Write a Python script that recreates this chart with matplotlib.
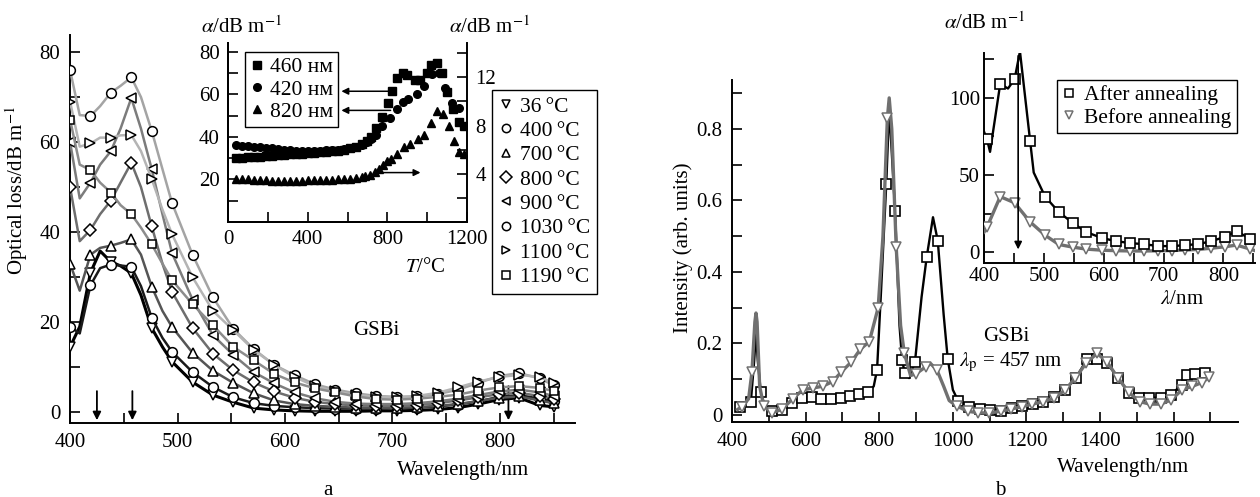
import matplotlib
matplotlib.use('Agg')
import matplotlib.pyplot as plt
from matplotlib.ticker import MultipleLocator
from matplotlib.lines import Line2D

plt.rcParams['font.family'] = ['Liberation Serif', 'DejaVu Serif']
plt.rcParams['mathtext.fontset'] = 'stix'
plt.rcParams['font.size'] = 15
plt.rcParams['axes.linewidth'] = 1.4

# ---------------- panel a: optical loss vs wavelength ----------------
wl_a = [400, 409, 419, 428, 438, 447, 457, 466, 476, 486, 495, 514, 533, 552, 571,
        590, 609, 628, 647, 666, 685, 704, 723, 742, 761, 780, 799, 818, 837, 850]
mark_a = [0, 2, 4, 6, 8] + list(range(10, 30))

loss_36 = [14.5, 19, 31, 35.8, 33.4, 32.5, 30.9, 26, 18.7, 14.5, 11.2, 6.7, 3.8, 2.2, 0.9,
           0.5, 0.3, 0.2, 0.2, 0.2, 0.3, 0.3, 0.4, 0.6, 1.0, 1.8, 2.8, 3.2, 1.5, 1.2]
loss_400 = [19, 17.5, 28.2, 32, 32.8, 32.6, 32.3, 28, 21, 16.5, 13.4, 8.9, 5.6, 3.3, 2.0,
            1.4, 1.1, 0.9, 0.8, 0.8, 0.8, 0.9, 1.0, 1.3, 1.7, 2.4, 3.4, 3.8, 3.0, 2.5]
loss_700 = [33, 27, 35, 36.5, 37, 37.6, 38.4, 35, 27.9, 22.5, 18.9, 13.2, 9.2, 6.5, 4.2,
            2.6, 1.8, 1.4, 1.2, 1.0, 1.0, 1.0, 1.1, 1.4, 1.8, 2.5, 3.2, 3.5, 2.6, 2.0]
loss_800 = [50, 38, 40.5, 44, 47, 51, 55.4, 50, 41.3, 33, 26.7, 18.7, 13, 9.3, 6.6,
            4.6, 3.2, 2.3, 1.8, 1.5, 1.4, 1.4, 1.6, 2.0, 2.6, 3.3, 4.0, 4.3, 3.6, 3.0]
loss_900 = [60, 47.5, 51, 55, 58, 63, 69.8, 63, 54, 44, 35.3, 25, 17.1, 12.7, 8.9,
            6.4, 4.4, 3.1, 2.3, 1.9, 1.8, 1.8, 2.0, 2.4, 3.0, 3.8, 4.6, 5.0, 4.4, 3.6]
loss_1030 = [76, 66, 65.8, 68, 71, 72.5, 74.4, 70, 62.5, 54, 46.4, 35, 25.5, 18.5, 14,
             10.5, 8.2, 6.2, 5.0, 4.2, 3.6, 3.4, 3.5, 4.0, 5.0, 6.5, 8.0, 8.7, 7.5, 6.0]
loss_1100 = [69, 59, 59.7, 61, 61, 61.5, 61.6, 58, 51.8, 45, 39.5, 30, 22.5, 18.2, 13.8,
             10.5, 7.8, 5.8, 4.6, 3.8, 3.4, 3.3, 3.6, 4.3, 5.5, 6.8, 7.8, 8.3, 7.8, 6.5]
loss_1190 = [65, 55, 53.8, 51, 48.8, 46, 44, 41, 37.3, 33, 29.3, 24, 19.3, 14.5, 11.5,
             8.5, 6.6, 5.3, 4.4, 3.5, 2.9, 2.8, 3.0, 3.4, 3.9, 4.8, 5.5, 5.8, 5.4, 4.7]

temps_a = ['36\u2009°C', '400\u2009°C', '700\u2009°C', '800\u2009°C',
           '900\u2009°C', '1030\u2009°C', '1100\u2009°C', '1190\u2009°C']
series_a = [loss_36, loss_400, loss_700, loss_800, loss_900, loss_1030, loss_1100, loss_1190]
markers_a = ['v', 'o', '^', 'D', '<', 'o', '>', 's']
colors_a = ['#000000', '#1a1a1a', '#555555', '#6e6e6e', '#7c7c7c', '#a4a4a4', '#b4b4b4', '#8c8c8c']
widths_a = [2.2, 1.8, 1.8, 1.8, 1.8, 1.8, 1.8, 1.8]
msize_a = [7, 7, 7, 6, 7, 7, 7, 6]
order_a = [6, 5, 7, 4, 3, 2, 1, 0]

arrows_a = [425, 458, 808]

# inset a: loss vs annealing temperature
T_460 = [40, 70, 100, 130, 160, 190, 220, 250, 280, 310, 340, 370, 400, 430, 460, 490, 520, 550,
         580, 610, 640, 670, 700, 720, 745, 775, 805, 825, 850, 880, 900, 940, 965, 1000, 1020,
         1050, 1075, 1100, 1130, 1160, 1185]
a_460 = [30.0, 30.2, 30.4, 30.6, 30.8, 31.0, 31.2, 31.4, 31.6, 31.8, 32.0, 32.2, 32.4, 32.6, 32.8,
         33.0, 33.3, 33.6, 34.0, 34.6, 35.4, 36.5, 38.0, 40.0, 44.0, 49.5, 56.0, 61.5, 67.5, 70.0,
         69.0, 67.0, 67.0, 70.0, 74.0, 75.0, 70.0, 61.0, 53.0, 47.0, 45.0]
T_420 = [40, 70, 100, 130, 160, 190, 220, 250, 280, 310, 340, 370, 400, 430, 460, 490, 520, 550,
         580, 610, 640, 670, 700, 720, 742, 775, 815, 850, 878, 905, 950, 985, 1025, 1060, 1090,
         1125, 1160]
a_420 = [36.0, 35.8, 35.6, 35.4, 35.2, 35.0, 34.6, 34.3, 34.0, 33.8, 33.6, 33.5, 33.5, 33.5, 33.6,
         33.7, 33.8, 34.0, 34.3, 34.7, 35.3, 36.2, 37.5, 39.0, 41.0, 45.0, 49.0, 53.0, 56.5, 57.7,
         60.0, 64.0, 69.5, 70.0, 63.0, 56.0, 53.5]
T_820 = [40, 70, 100, 130, 160, 190, 220, 250, 280, 310, 340, 370, 400, 430, 460, 490, 520, 550,
         580, 610, 640, 670, 690, 715, 740, 760, 780, 800, 820, 850, 885, 915, 955, 985, 1020,
         1050, 1080, 1110, 1135, 1160, 1185]
a_820 = [3.53, 3.56, 3.53, 3.49, 3.49, 3.46, 3.44, 3.42, 3.40, 3.40, 3.42, 3.44, 3.46, 3.48, 3.49,
         3.49, 3.51, 3.53, 3.55, 3.58, 3.63, 3.70, 3.79, 3.93, 4.13, 4.41, 4.76, 5.03, 5.20, 5.64,
         6.26, 6.44, 6.88, 7.23, 8.24, 9.17, 9.00, 7.94, 6.70, 5.82, 5.64]

# ---------------- panel b: luminescence ----------------
wl_after = [413, 422, 451, 460, 465, 470, 478, 490, 508, 535, 562, 589, 616, 641, 670, 695, 720,
            744, 770, 785, 794, 805, 819, 827, 843, 855, 862, 869, 881, 897, 915, 929, 946, 959,
            975, 986, 1000, 1014, 1043, 1073, 1100, 1130, 1162, 1189, 1218, 1246, 1276, 1305,
            1335, 1365, 1392, 1419, 1449, 1478, 1505, 1532, 1565, 1592, 1622, 1635, 1657, 1684, 1697]
int_after = [0.015, 0.022, 0.036, 0.15, 0.23, 0.15, 0.065, 0.02, 0.01, 0.014, 0.033, 0.047, 0.05,
             0.045, 0.044, 0.047, 0.053, 0.058, 0.064, 0.08, 0.126, 0.35, 0.646, 0.86, 0.571, 0.25,
             0.154, 0.118, 0.103, 0.148, 0.33, 0.442, 0.553, 0.487, 0.28, 0.157, 0.07, 0.04,
             0.023, 0.016, 0.013, 0.012, 0.02, 0.025, 0.03, 0.037, 0.05, 0.07, 0.104, 0.157,
             0.157, 0.145, 0.103, 0.062, 0.048, 0.048, 0.048, 0.056, 0.084, 0.112, 0.115, 0.117, 0.115]
mark_after = [1, 2, 6, 8, 9, 10, 11, 12, 13, 14, 15, 16, 17, 18, 20, 22, 24, 26, 27, 29, 31, 33,
              35] + list(range(37, 62))

wl_before = [415, 427, 445, 454, 462, 465, 468, 475, 486, 508, 535, 565, 592, 619, 646, 673, 697,
             724, 749, 773, 797, 810, 822, 827, 834, 846, 858, 868, 885, 900, 927, 940, 957, 975,
             990, 1010, 1040, 1068, 1098, 1130, 1158, 1187, 1216, 1246, 1276, 1305, 1333, 1363,
             1392, 1419, 1449, 1478, 1508, 1535, 1565, 1594, 1622, 1651, 1676, 1697]
int_before = [0.015, 0.023, 0.045, 0.12, 0.26, 0.285, 0.26, 0.08, 0.025, 0.006, 0.015, 0.045, 0.07,
              0.075, 0.08, 0.093, 0.12, 0.148, 0.184, 0.205, 0.30, 0.50, 0.83, 0.887, 0.80, 0.47,
              0.25, 0.173, 0.11, 0.115, 0.135, 0.143, 0.125, 0.08, 0.04, 0.025, 0.01, 0.006,
              0.005, 0.01, 0.016, 0.023, 0.03, 0.037, 0.047, 0.07, 0.103, 0.146, 0.172, 0.148,
              0.103, 0.063, 0.037, 0.03, 0.03, 0.042, 0.07, 0.08, 0.09, 0.105]
mark_before = [1, 3, 8, 9, 10, 11, 12, 13, 14, 15, 16, 17, 18, 19, 20, 22, 25, 27, 29, 30, 32] + \
    list(range(35, 60))

# inset b: absorption before / after annealing
wl_ins_after = [400, 405, 410, 427, 440, 451, 460, 477, 483, 502, 525, 548, 571, 597, 620, 644,
                667, 691, 714, 736, 758, 780, 802, 822, 845, 853]
al_after = [78, 73, 65, 109, 106, 112, 130, 72, 51.6, 36, 26, 19, 13, 9.2, 7.2, 5.9, 5.2, 4.0,
            3.9, 4.6, 5.2, 7.2, 9.8, 13.7, 8.5, 7]
mark_ins_after = [1, 3, 5, 7, 9, 10, 11, 12, 13, 14, 15, 16, 17, 18, 19, 20, 21, 22, 23, 24]
wl_ins_before = [400, 405, 427, 451, 477, 502, 525, 548, 571, 597, 620, 644, 667, 691, 714, 736,
                 758, 780, 802, 822, 845, 853]
al_before = [13, 16.3, 36, 32, 19.6, 11, 5, 3.3, 2, 1.3, 1.0, 0.8, 0.8, 0.9, 1.1, 1.4, 1.8, 2.6,
             3.5, 4.6, 2, 1]
mark_ins_before = list(range(1, 21))


def style_ticks(ax, **kw):
    ax.tick_params(which='both', direction='in', length=7, width=1.2, **kw)


fig = plt.figure(figsize=(12.6, 4.97), dpi=100)

# ---- panel a main
ax1 = fig.add_axes([0.0556, 0.1489, 0.4008, 0.7807])
for i in order_a:
    ax1.plot(wl_a, series_a[i], color=colors_a[i], lw=widths_a[i], marker=markers_a[i],
             ms=msize_a[i], mfc='white', mec='black', mew=1.1, markevery=mark_a, zorder=3 + i)
ax1.set_xlim(400, 870)
ax1.set_ylim(-2.4, 83.8)
ax1.xaxis.set_major_locator(MultipleLocator(100))
ax1.xaxis.set_minor_locator(MultipleLocator(50))
ax1.yaxis.set_major_locator(MultipleLocator(20))
ax1.yaxis.set_minor_locator(MultipleLocator(10))
style_ticks(ax1, pad=7)
for s in ['top', 'right']:
    ax1.spines[s].set_visible(False)
ax1.set_ylabel('Optical loss/dB m$^{-1}$')
ax1.yaxis.set_label_coords(-0.08, 0.6)
ax1.set_xlabel('Wavelength/nm')
ax1.xaxis.set_label_coords(0.778, -0.098)
for w in arrows_a:
    top = 6.4 if w > 700 else 5.3
    ax1.annotate('', xy=(w, -2.4), xytext=(w, top),
                 arrowprops=dict(arrowstyle='-|>', color='black', lw=1.3, mutation_scale=12))
fig.text(0.299, 0.336, 'GSBi', ha='center', va='center')
fig.text(0.26, 0.014, 'a', ha='center', va='center')

handles_a = [Line2D([], [], ls='none', marker=markers_a[i], ms=6, mfc='white', mec='black',
                    mew=1.1) for i in range(8)]
fig.legend(handles_a, temps_a, loc='upper right', bbox_to_anchor=(0.4738, 0.8189),
           frameon=True, fancybox=False, edgecolor='black', framealpha=1, borderpad=0.3,
           labelspacing=0.2, handlelength=0.7, handletextpad=0.3, borderaxespad=0,
           fontsize=15.5).get_frame().set_linewidth(1.0)

# ---- panel a inset
ax2 = fig.add_axes([0.181, 0.5533, 0.1897, 0.3602])
ax2.plot(T_460, a_460, ls='none', marker='s', ms=5.5, color='black')
ax2.plot(T_420, a_420, ls='none', marker='o', ms=5.5, color='black')
ax2.set_xlim(0, 1200)
ax2.set_ylim(0, 84.2)
ax2.xaxis.set_major_locator(MultipleLocator(400))
ax2.xaxis.set_minor_locator(MultipleLocator(200))
ax2.yaxis.set_major_locator(MultipleLocator(20))
ax2.yaxis.set_minor_locator(MultipleLocator(10))
style_ticks(ax2, pad=6)
ax2.spines['top'].set_visible(False)
ax2.spines['right'].set_visible(False)
ax2.set_yticks([20, 40, 60, 80])
ax2.set_xlabel('$T$/°C')
ax2.xaxis.set_label_coords(0.824, -0.2)
ax2r = ax2.twinx()
ax2r.plot(T_820, a_820, ls='none', marker='^', ms=6, color='black')
ax2r.set_ylim(0, 14.85)
ax2r.yaxis.set_major_locator(MultipleLocator(4))
ax2r.yaxis.set_minor_locator(MultipleLocator(2))
ax2r.set_yticks([4, 8, 12])
style_ticks(ax2r, pad=6)
ax2r.spines['top'].set_visible(False)
ax2r.spines['right'].set_linewidth(1.4)
for (t0, t1, y, axx) in [(840, 555, 61.5, ax2), (830, 555, 52.5, ax2), (765, 980, 4.1, ax2r)]:
    axx.annotate('', xy=(t1, y), xytext=(t0, y),
                 arrowprops=dict(arrowstyle='-|>', color='black', lw=1.1, mutation_scale=10))
fig.text(0.192, 0.9457, r'$\alpha$/dB m$^{-1}$', ha='center', va='center')
fig.text(0.389, 0.9457, r'$\alpha$/dB m$^{-1}$', ha='center', va='center')
handles_i = [Line2D([], [], ls='none', marker=m, ms=5.5, color='black') for m in ['s', 'o', '^']]
fig.legend(handles_i, ['460 нм', '420 нм', '820 нм'], loc='upper left',
           bbox_to_anchor=(0.1944, 0.8954), frameon=True, fancybox=False, edgecolor='black',
           framealpha=1, borderpad=0.25, labelspacing=0.1, handlelength=0.6, handletextpad=0.3,
           borderaxespad=0, fontsize=15.5).get_frame().set_linewidth(1.0)

# ---- panel b main
ax3 = fig.add_axes([0.581, 0.1509, 0.4016, 0.6881])
ax3.plot(wl_after, int_after, color='black', lw=1.7, marker='s', ms=6.5, mfc='white', mec='black',
         mew=1.2, markevery=mark_after, zorder=3)
ax3.plot(wl_before, int_before, color='#707070', lw=2.4, marker='v', ms=6.5, mfc='white',
         mec='#707070', mew=1.1, markevery=mark_before, zorder=4)
ax3.set_xlim(400, 1775)
ax3.set_ylim(-0.02, 0.937)
ax3.xaxis.set_major_locator(MultipleLocator(200))
ax3.xaxis.set_minor_locator(MultipleLocator(100))
ax3.yaxis.set_major_locator(MultipleLocator(0.2))
ax3.yaxis.set_minor_locator(MultipleLocator(0.1))
ax3.yaxis.set_major_formatter(lambda v, p: '0' if abs(v) < 1e-9 else f'{v:.1f}')
style_ticks(ax3, pad=7)
for s in ['top', 'right']:
    ax3.spines[s].set_visible(False)
ax3.set_ylabel('Intensity (arb. units)')
ax3.yaxis.set_label_coords(-0.078, 0.51)
ax3.set_xlabel('Wavelength/nm')
ax3.xaxis.set_label_coords(0.773, -0.105)
fig.text(0.799, 0.322, 'GSBi', ha='center', va='center')
fig.text(0.8024, 0.2716, r'$\lambda_\mathrm{p}$ = 457 nm', ha='center', va='center')
fig.text(0.7937, 0.014, 'b', ha='center', va='center')

# ---- panel b inset
ax4 = fig.add_axes([0.781, 0.4708, 0.2151, 0.4225])
ax4.plot(wl_ins_after, al_after, color='black', lw=1.7, marker='s', ms=6.5, mfc='white',
         mec='black', mew=1.2, markevery=mark_ins_after, zorder=4)
ax4.plot(wl_ins_before, al_before, color='#707070', lw=2.4, marker='v', ms=6.5, mfc='white',
         mec='#707070', mew=1.1, markevery=mark_ins_before, zorder=3)
ax4.set_xlim(400, 853)
ax4.set_ylim(-7, 129)
ax4.xaxis.set_major_locator(MultipleLocator(100))
ax4.xaxis.set_minor_locator(MultipleLocator(50))
ax4.yaxis.set_major_locator(MultipleLocator(50))
ax4.yaxis.set_minor_locator(MultipleLocator(25))
style_ticks(ax4, pad=3)
for s in ['top', 'right']:
    ax4.spines[s].set_visible(False)
ax4.annotate('', xy=(457, 0), xytext=(457, 129),
             arrowprops=dict(arrowstyle='-|>', color='black', lw=1.2, mutation_scale=11), zorder=6)
fig.text(0.7817, 0.9537, r'$\alpha$/dB m$^{-1}$', ha='center', va='center')
fig.text(0.938, 0.398, r'$\lambda$/nm', ha='center', va='center')
handles_b = [Line2D([], [], ls='none', marker='s', ms=5.5, mfc='white', mec='black', mew=1.1),
             Line2D([], [], ls='none', marker='v', ms=5.5, mfc='white', mec='#707070', mew=1.1)]
fig.legend(handles_b, ['After annealing', 'Before annealing'], loc='upper left',
           bbox_to_anchor=(0.8389, 0.839), frameon=True, fancybox=False, edgecolor='black',
           framealpha=1, borderpad=0.25, labelspacing=0.1, handlelength=0.6, handletextpad=0.4,
           borderaxespad=0, fontsize=15.5).get_frame().set_linewidth(1.0)

fig.savefig('out.png', dpi=100)
